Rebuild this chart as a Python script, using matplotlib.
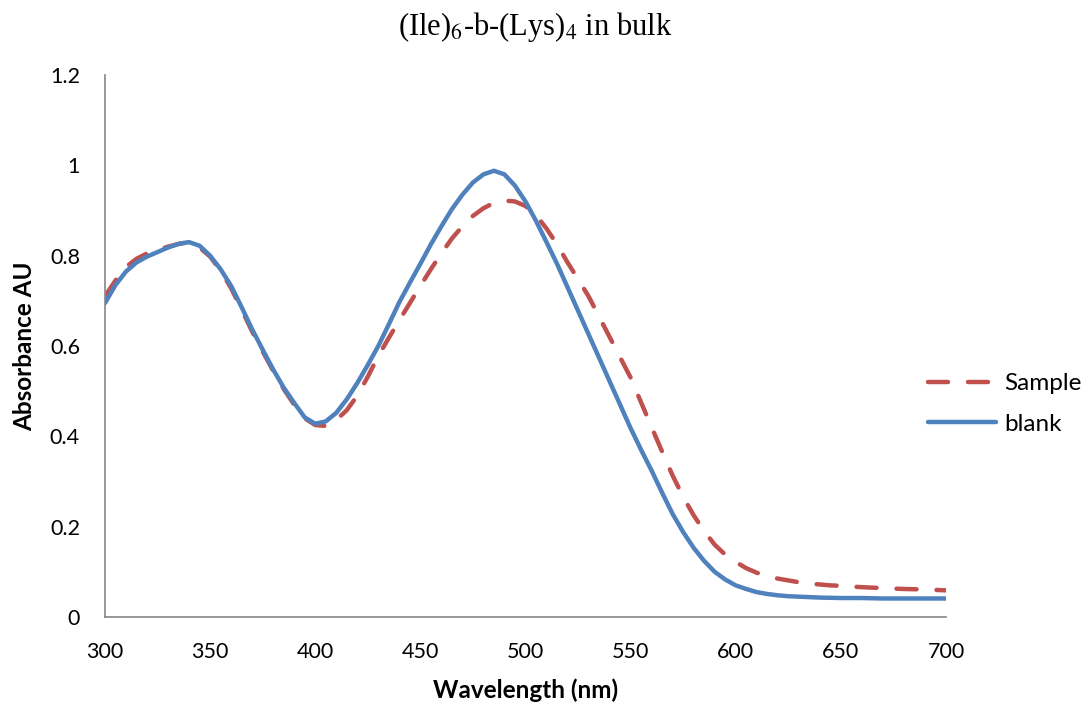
import matplotlib
matplotlib.use("Agg")
import matplotlib.pyplot as plt

# wavelength grid (nm), 5 nm steps
wavelength = list(range(300, 705, 5))

sample = [0.710, 0.745, 0.775, 0.793, 0.805, 0.813, 0.820, 0.826, 0.830, 0.818,
          0.798, 0.767, 0.728, 0.681, 0.632, 0.588, 0.545, 0.505, 0.470, 0.440,
          0.425, 0.423, 0.436, 0.458, 0.490, 0.532, 0.578, 0.618, 0.657, 0.695,
          0.733, 0.770, 0.805, 0.838, 0.865, 0.888, 0.905, 0.917, 0.922, 0.920,
          0.910, 0.890, 0.860, 0.825, 0.785, 0.748, 0.710, 0.665, 0.620, 0.575,
          0.530, 0.475, 0.420, 0.366, 0.313, 0.266, 0.225, 0.190, 0.160, 0.138,
          0.122, 0.108, 0.098, 0.091, 0.085, 0.081, 0.077, 0.074, 0.072, 0.070,
          0.069, 0.0675, 0.066, 0.065, 0.064, 0.063, 0.062, 0.0615, 0.061, 0.060,
          0.059]

blank = [0.695, 0.735, 0.765, 0.785, 0.798, 0.808, 0.818, 0.826, 0.830, 0.822,
         0.800, 0.770, 0.733, 0.686, 0.637, 0.592, 0.548, 0.508, 0.474, 0.442,
         0.428, 0.433, 0.452, 0.482, 0.518, 0.558, 0.600, 0.648, 0.697, 0.740,
         0.782, 0.825, 0.865, 0.903, 0.935, 0.962, 0.980, 0.988, 0.980, 0.955,
         0.920, 0.877, 0.830, 0.782, 0.730, 0.678, 0.626, 0.574, 0.522, 0.470,
         0.418, 0.370, 0.324, 0.275, 0.228, 0.188, 0.153, 0.124, 0.100, 0.083,
         0.070, 0.062, 0.055, 0.051, 0.048, 0.046, 0.045, 0.044, 0.043, 0.0425,
         0.042, 0.042, 0.042, 0.0415, 0.041, 0.041, 0.041, 0.041, 0.041, 0.041,
         0.041]

xticks = [300, 350, 400, 450, 500, 550, 600, 650, 700]
yticks = [0, 0.2, 0.4, 0.6, 0.8, 1.0, 1.2]
ytick_labels = ["0", "0.2", "0.4", "0.6", "0.8", "1", "1.2"]

plt.rcParams['font.family'] = ['Lato', 'DejaVu Sans']
plt.rcParams['mathtext.fontset'] = 'stix'

fig = plt.figure(figsize=(10.91, 7.07), dpi=100)
ax = fig.add_axes([0.0962, 0.1273, 0.7709, 0.7666])

ax.plot(wavelength, sample, color='#C0504D', lw=3.2, dashes=(4.5, 4.5),
        dash_capstyle='round', solid_capstyle='round', label='Sample')
ax.plot(wavelength, blank, color='#4F81BD', lw=3.2,
        solid_capstyle='round', label='blank')

ax.set_xlim(300, 700)
ax.set_ylim(0, 1.2)
ax.set_xticks(xticks)
ax.set_yticks(yticks)
ax.set_yticklabels(ytick_labels)
ax.tick_params(length=0, labelsize=15.5)
ax.tick_params(axis='x', pad=18)
ax.tick_params(axis='y', pad=18)

for side in ['top', 'right']:
    ax.spines[side].set_visible(False)
for side in ['left', 'bottom']:
    ax.spines[side].set_color('#868686')
    ax.spines[side].set_linewidth(1.2)

ax.set_xlabel('Wavelength (nm)', fontsize=17.5, fontweight='bold', labelpad=12)
ax.set_ylabel('Absorbance AU', fontsize=17.5, fontweight='bold', labelpad=10)

fig.text(0.491, 0.962, r'(Ile)$_6$-b-(Lys)$_4$ in bulk', ha='center', va='center',
         fontsize=22, family='Liberation Serif')

fig.legend(loc='center left', bbox_to_anchor=(0.851, 0.4286), frameon=False,
           fontsize=17.5, handlelength=2.8, handletextpad=0.3, labelspacing=0.8,
           borderpad=0, borderaxespad=0)

fig.savefig('out.png', dpi=100)
